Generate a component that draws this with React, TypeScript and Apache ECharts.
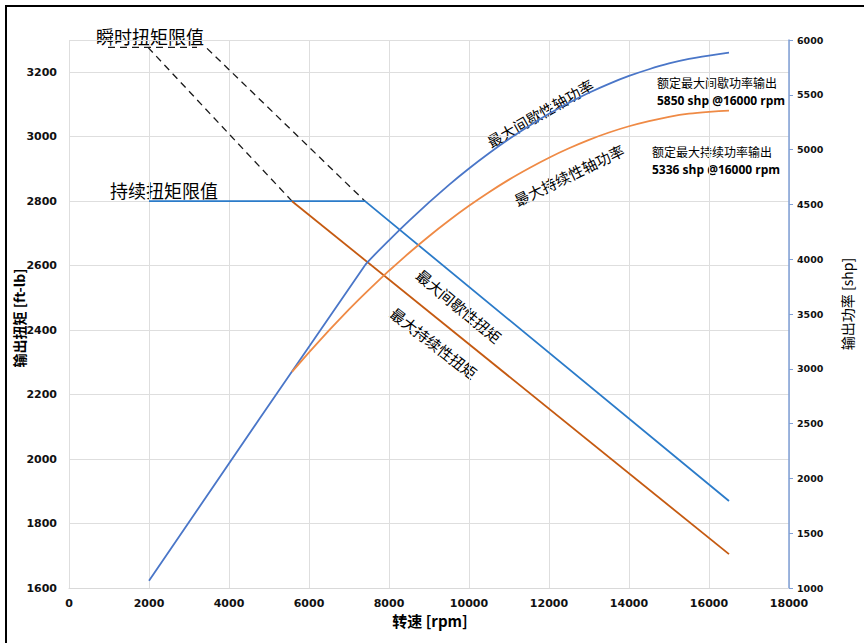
import React, { useEffect, useRef } from "react";
import * as echarts from "echarts";

// ---- data ----
const xTicks = [0, 2000, 4000, 6000, 8000, 10000, 12000, 14000, 16000, 18000];

const intTorqueRpm = [2000, 7400, 16500];
const intTorque = [2800, 2800, 1870];

const contTorqueRpm = [5575, 16500];
const contTorque = [2800, 1705];

const intPowerRpm = [2000, 7400, 8000, 8500, 9000, 9500, 10000, 10500, 11000, 11500, 12000, 12500, 13000, 13500, 14000, 14500, 15000, 15500, 16000, 16500];
const intPower = [1066, 3945, 4172, 4350, 4519, 4678, 4827, 4966, 5096, 5216, 5327, 5428, 5519, 5600, 5672, 5733, 5786, 5828, 5858, 5884];

const contPowerRpm = [5575, 6000, 6500, 7000, 7500, 8000, 8500, 9000, 9500, 10000, 10500, 11000, 11500, 12000, 12500, 13000, 13500, 14000, 14500, 15000, 15500, 16000, 16500];
const contPower = [2972, 3150, 3351, 3542, 3723, 3895, 4057, 4210, 4353, 4487, 4611, 4726, 4830, 4926, 5012, 5089, 5156, 5213, 5260, 5299, 5328, 5345, 5356];

// dashed guide lines for the transient torque limit
const guideTopRpm = [975, 3200];
const guideTopTorque = [3277, 3277];
const guideARpm = [1975, 5575];
const guideATorque = [3277, 2800];
const guideBRpm = [3450, 7400];
const guideBTorque = [3274, 2800];

const zip = (xs: number[], ys: number[]) => xs.map((x, i) => [x, ys[i]]);

const CJK = "'Noto Sans CJK SC', 'Noto Sans', sans-serif";
const NUM = "'DejaVu Sans', sans-serif";
const plain = (v: number) => String(v);

export default function App() {
  const ref = useRef<HTMLDivElement>(null);
  useEffect(() => {
    if (!ref.current) return;
    const chart = echarts.init(ref.current, undefined, { renderer: "svg" });
    const dashed = (name: string, xs: number[], ys: number[]) => ({
      name,
      type: "line",
      yAxisIndex: 0,
      data: zip(xs, ys),
      symbol: "none",
      silent: true,
      lineStyle: { color: "#1a1a1a", width: 1.3, type: [7, 5] },
      z: 3,
    });
    chart.setOption({
      animation: false,
      backgroundColor: "#ffffff",
      grid: { left: 69, top: 40, right: 75, bottom: 55, containLabel: false },
      xAxis: {
        type: "value",
        min: xTicks[0],
        max: xTicks[xTicks.length - 1],
        interval: 2000,
        axisLine: { show: true, lineStyle: { color: "#d9d9d9", width: 1 } },
        axisTick: { show: false },
        axisLabel: { color: "#111", fontWeight: "bold", fontSize: 11, fontFamily: NUM, margin: 10, formatter: plain },
        splitLine: { show: true, lineStyle: { color: "#dedede", width: 1 } },
      },
      yAxis: [
        {
          type: "value",
          min: 1600,
          max: 3300,
          interval: 200,
          position: "left",
          axisLine: { show: false },
          axisTick: { show: false },
          axisLabel: { color: "#111", fontWeight: "bold", fontSize: 11, fontFamily: NUM, margin: 12, showMaxLabel: false, formatter: plain },
          splitLine: { show: true, lineStyle: { color: "#dedede", width: 1 } },
        },
        {
          type: "value",
          min: 1000,
          max: 6000,
          interval: 500,
          position: "right",
          axisLine: { show: true, lineStyle: { color: "#7f9fd6", width: 1.5 } },
          axisTick: { show: true, length: 4, lineStyle: { color: "#7f9fd6" } },
          axisLabel: { color: "#111", fontWeight: "bold", fontSize: 9.5, fontFamily: NUM, margin: 8, formatter: plain },
          splitLine: { show: false },
        },
      ],
      series: [
        dashed("guideTop", guideTopRpm, guideTopTorque),
        dashed("guideA", guideARpm, guideATorque),
        dashed("guideB", guideBRpm, guideBTorque),
        {
          name: "最大间歇性扭矩",
          type: "line",
          yAxisIndex: 0,
          data: zip(intTorqueRpm, intTorque),
          symbol: "none",
          lineStyle: { color: "#2b7bc9", width: 1.8 },
          z: 4,
        },
        {
          name: "最大持续性扭矩",
          type: "line",
          yAxisIndex: 0,
          data: zip(contTorqueRpm, contTorque),
          symbol: "none",
          lineStyle: { color: "#c55a11", width: 1.8 },
          z: 4,
        },
        {
          name: "最大间歇性轴功率",
          type: "line",
          yAxisIndex: 1,
          data: zip(intPowerRpm, intPower),
          symbol: "none",
          smooth: 0.15,
          lineStyle: { color: "#4a76c8", width: 1.8 },
          z: 5,
        },
        {
          name: "最大持续性轴功率",
          type: "line",
          yAxisIndex: 1,
          data: zip(contPowerRpm, contPower),
          symbol: "none",
          smooth: 0.15,
          lineStyle: { color: "#ef8a45", width: 1.8 },
          z: 5,
        },
      ],
      graphic: [
        {
          type: "rect",
          shape: { x: 6, y: 6, width: 900, height: 700 },
          style: { fill: "none", stroke: "#000", lineWidth: 2 },
          silent: true,
        },
        {
          type: "text",
          x: 96,
          y: 36,
          style: { text: "瞬时扭矩限值", font: `18px ${CJK}`, fill: "#000", align: "left", verticalAlign: "middle" },
        },
        {
          type: "text",
          x: 110,
          y: 190,
          style: { text: "持续扭矩限值", font: `18px ${CJK}`, fill: "#000", align: "left", verticalAlign: "middle" },
        },
        {
          type: "text",
          x: 540,
          y: 113,
          rotation: 0.52,
          style: { text: "最大间歇性轴功率", font: `15px ${CJK}`, fill: "#000", align: "center", verticalAlign: "middle" },
        },
        {
          type: "text",
          x: 569,
          y: 175,
          rotation: 0.45,
          style: { text: "最大持续性轴功率", font: `15px ${CJK}`, fill: "#000", align: "center", verticalAlign: "middle" },
        },
        {
          type: "text",
          x: 459,
          y: 306,
          rotation: -0.69,
          style: { text: "最大间歇性扭矩", font: `15px ${CJK}`, fill: "#000", align: "center", verticalAlign: "middle" },
        },
        {
          type: "text",
          x: 434,
          y: 343,
          rotation: -0.66,
          style: { text: "最大持续性扭矩", font: `15px ${CJK}`, fill: "#000", align: "center", verticalAlign: "middle" },
        },
        {
          type: "text",
          x: 657,
          y: 82,
          style: { text: "额定最大间歇功率输出", font: `12px ${CJK}`, fill: "#000", align: "left", verticalAlign: "middle" },
        },
        {
          type: "text",
          x: 657,
          y: 100,
          style: { text: "5850 shp @16000 rpm", font: `bold 12px 'Open Sans', sans-serif`, fill: "#000", align: "left", verticalAlign: "middle" },
        },
        {
          type: "text",
          x: 652,
          y: 151,
          style: { text: "额定最大持续功率输出", font: `12px ${CJK}`, fill: "#000", align: "left", verticalAlign: "middle" },
        },
        {
          type: "text",
          x: 652,
          y: 169,
          style: { text: "5336 shp @16000 rpm", font: `bold 12px 'Open Sans', sans-serif`, fill: "#000", align: "left", verticalAlign: "middle" },
        },
        {
          type: "text",
          x: 430,
          y: 620,
          style: { text: "转速 [rpm]", font: `bold 15px ${CJK}`, fill: "#000", align: "center", verticalAlign: "middle" },
        },
        {
          type: "text",
          x: 19,
          y: 318,
          rotation: Math.PI / 2,
          style: { text: "输出扭矩 [ft-lb]", font: `bold 14px ${CJK}`, fill: "#000", align: "center", verticalAlign: "middle" },
        },
        {
          type: "text",
          x: 847,
          y: 304,
          rotation: Math.PI / 2,
          style: { text: "输出功率 [shp]", font: `14px ${CJK}`, fill: "#000", align: "center", verticalAlign: "middle" },
        },
      ],
    });
    return () => chart.dispose();
  }, []);
  return <div ref={ref} style={{ position: "fixed", left: 0, top: 0, width: 864, height: 643 }} />;
}
